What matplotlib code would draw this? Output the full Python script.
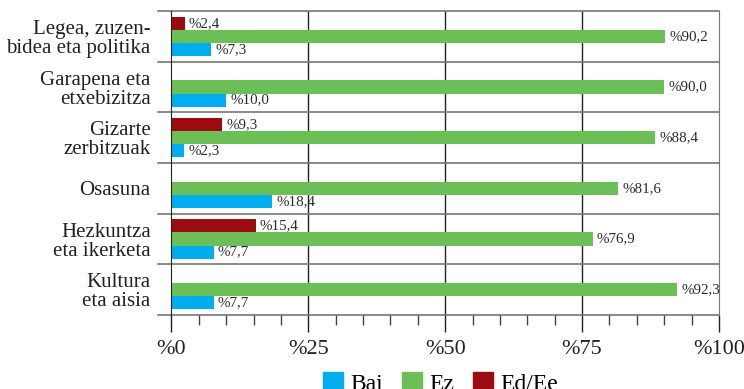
import matplotlib.pyplot as plt
from matplotlib.patches import Patch
import numpy as np

categories = ["Legea, zuzen-\nbidea eta politika", "Garapena eta\netxebizitza",
              "Gizarte\nzerbitzuak", "Osasuna", "Hezkuntza\neta ikerketa",
              "Kultura\neta aisia"]
bai = [7.3, 10.0, 2.3, 18.4, 7.7, 7.7]
ez = [90.2, 90.0, 88.4, 81.6, 76.9, 92.3]
ed = [2.4, 0.0, 9.3, 0.0, 15.4, 0.0]
series_names = ["Bai", "Ez", "Ed/Ee"]
tick_vals = [0, 25, 50, 75, 100]

c_bai = "#00adee"
c_ez = "#6cbf56"
c_ed = "#9b0b10"

plt.rcParams['font.family'] = ['Liberation Serif', 'DejaVu Serif']

fig = plt.figure(figsize=(7.44, 3.89), dpi=100)
ax = fig.add_axes([0.2305, 0.1902, 0.7359, 0.7815])

y = np.arange(len(categories)) + 0.5
h = 0.258

def fmt(v):
    return "%" + ("%.1f" % v).replace(".", ",")

for vals, off, col in [(ed, -h, c_ed), (ez, 0, c_ez), (bai, h, c_bai)]:
    for yi, v in zip(y, vals):
        if v <= 0:
            continue
        ax.barh(yi + off, v, height=h, color=col, linewidth=0)
        ax.annotate(fmt(v), (v, yi + off), xytext=(3, 0), textcoords="offset points",
                    va="center", ha="left", fontsize=10.8, color="#2a2a2a")

ax.set_xlim(0, 100)
ax.set_ylim(len(categories), 0)

# vertical grid at the quarter marks
for t in [25, 50, 75]:
    ax.axvline(t, color="#222222", lw=1.0, zorder=0)

# horizontal separators, extended to the left of the plot
trans = ax.get_yaxis_transform()
for yy in range(len(categories) + 1):
    ax.plot([-0.024, 1], [yy, yy], transform=trans, color="#777777", lw=1.2,
            clip_on=False, zorder=1)

for s in ["top", "bottom"]:
    ax.spines[s].set_visible(False)
ax.spines["left"].set_color("#222222")
ax.spines["right"].set_color("#777777")

ax.set_yticks(y)
ax.set_yticklabels(categories, fontsize=15, color="#222222", linespacing=1.0)
ax.tick_params(axis="y", length=0, pad=15)

ax.set_xticks(tick_vals)
ax.set_xticklabels(["%" + str(t) for t in tick_vals], fontsize=16, color="#222222")
ax.set_xticks(np.arange(0, 101, 5), minor=True)
ax.tick_params(axis="x", which="major", length=12, width=1.0, color="#222222", pad=6)
ax.tick_params(axis="x", which="minor", length=7, width=1.0, color="#444444")

handles = [Patch(color=c_bai), Patch(color=c_ez), Patch(color=c_ed)]
fig.legend(handles, series_names, loc="upper center", bbox_to_anchor=(0.592, 0.073),
           ncol=3, frameon=False, fontsize=17, handlelength=0.85, handleheight=0.9,
           handletextpad=0.3, columnspacing=0.8, borderpad=0)

fig.savefig("out.png", dpi=100)
